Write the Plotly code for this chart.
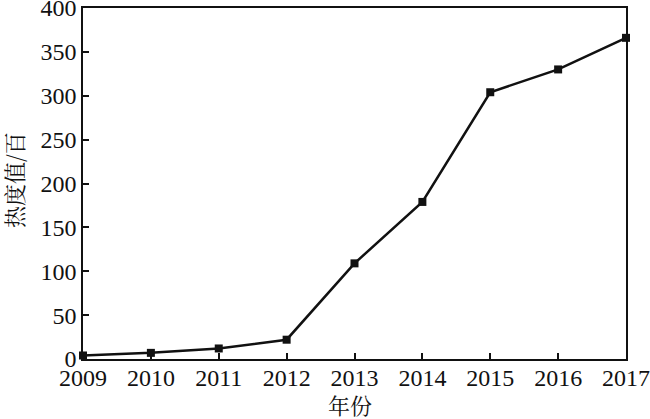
import plotly.graph_objects as go

years = [2009, 2010, 2011, 2012, 2013, 2014, 2015, 2016, 2017]
heat = [4, 7, 12, 22, 109, 179, 304, 330, 366]
y_ticks = [0, 50, 100, 150, 200, 250, 300, 350, 400]

fig = go.Figure()
fig.add_trace(go.Scatter(
    x=years, y=heat, mode="lines+markers",
    line=dict(color="#111111", width=2.5),
    marker=dict(symbol="square", size=8, color="#111111"),
    cliponaxis=False, showlegend=False,
))

font = dict(family="Liberation Serif, Times New Roman, serif", size=24, color="#111111")
cjk = dict(family="Noto Serif CJK SC, Noto Sans CJK SC", size=22, color="#111111")
fig.update_layout(
    width=650, height=419,
    margin=dict(l=83, r=24, t=8, b=60),
    paper_bgcolor="white", plot_bgcolor="white",
    font=font,
    annotations=[
        dict(text="年份", xref="paper", yref="paper", x=0.492, y=-0.13,
             xanchor="center", yanchor="middle", showarrow=False, font=cjk),
        dict(text="热度值/百", xref="paper", yref="paper", x=-0.127, y=0.51,
             xanchor="center", yanchor="middle", textangle=-90, showarrow=False, font=cjk),
    ],
)
fig.update_xaxes(
    range=[2009, 2017], tickvals=years, ticktext=[str(y) for y in years],
    ticks="inside", ticklen=6, tickwidth=1.5, tickcolor="#111111",
    showline=True, linecolor="#111111", linewidth=1.5, mirror=True,
    showgrid=False, zeroline=False, automargin=False,
    ticklabeloverflow="allow", tickfont=font, ticklabelstandoff=-4,
)
fig.update_yaxes(
    range=[0, 400], tickvals=y_ticks,
    ticks="inside", ticklen=6, tickwidth=1.5, tickcolor="#111111",
    showline=True, linecolor="#111111", linewidth=1.5, mirror=True,
    showgrid=False, zeroline=False, automargin=False,
    ticklabeloverflow="allow", tickfont=font,
)
fig.write_html("out.html", config={"displayModeBar": False},
               post_script="document.body.style.margin='0';")
